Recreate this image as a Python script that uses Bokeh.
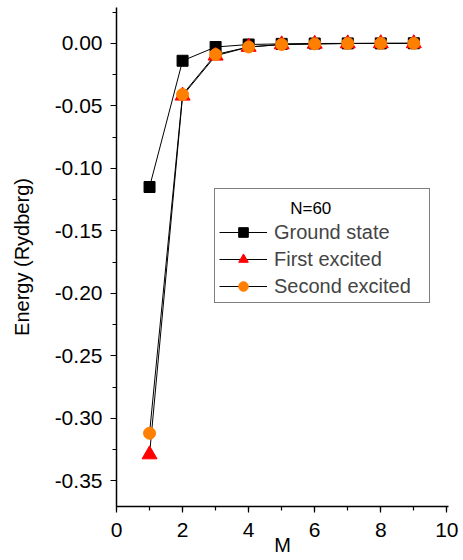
from bokeh.plotting import figure
from bokeh.models import Legend, LegendItem, SingleIntervalTicker, PrintfTickFormatter, Range1d, Label
from bokeh.embed import file_html
from bokeh.resources import INLINE

M = [1, 2, 3, 4, 5, 6, 7, 8, 9]
ground = [-0.115, -0.014, -0.003, -0.001, -0.0005, -0.0002, -0.0001, -0.0001, 0.0]
first = [-0.329, -0.042, -0.010, -0.003, -0.001, -0.0005, -0.0002, -0.0001, -0.0001]
second = [-0.312, -0.041, -0.009, -0.003, -0.001, -0.0005, -0.0002, -0.0001, -0.0001]
legend_title = "N=60"
x_title = "M"
y_title = "Energy (Rydberg)"

FONT = "Liberation Sans"

p = figure(width=463, height=560, output_backend="svg", toolbar_location=None,
           x_range=Range1d(0, 10.05), y_range=Range1d(-0.3706, 0.0286),
           min_border_left=116, min_border_right=15, min_border_top=7, min_border_bottom=54)
p.outline_line_color = None
p.xgrid.visible = False
p.ygrid.visible = False

p.xaxis.ticker = SingleIntervalTicker(interval=2, num_minor_ticks=2)
p.yaxis.ticker = SingleIntervalTicker(interval=0.05, num_minor_ticks=2)
p.yaxis.formatter = PrintfTickFormatter(format="%.2f")
for ax in (p.xaxis, p.yaxis):
    ax.axis_line_color = "black"
    ax.axis_line_width = 1.5
    ax.major_tick_line_color = "black"
    ax.minor_tick_line_color = "black"
    ax.major_tick_line_width = 1.2
    ax.minor_tick_line_width = 1.2
    ax.major_tick_out = 6
    ax.major_tick_in = 0
    ax.minor_tick_out = 4
    ax.minor_tick_in = 0
    ax.major_label_text_font = FONT
    ax.major_label_text_font_size = "21px"
    ax.major_label_text_color = "black"
    ax.axis_label_text_font = FONT
    ax.axis_label_text_font_style = "normal"
    ax.axis_label_text_color = "black"
p.xaxis.major_label_standoff = 10
p.yaxis.major_label_standoff = 8
p.yaxis.axis_label = y_title
p.yaxis.axis_label_text_font_size = "20px"
p.yaxis.axis_label_standoff = 19
p.xaxis.axis_label = x_title
p.xaxis.axis_label_text_font_size = "20px"
p.xaxis.axis_label_standoff = -6

l1 = p.line(M, ground, line_color="black", line_width=1)
l2 = p.line(M, first, line_color="black", line_width=1)
l3 = p.line(M, second, line_color="black", line_width=1)
s1 = p.scatter(M, ground, marker="square", size=11, fill_color="black", line_color="black")
s2 = p.scatter(M, first, marker="triangle", size=15, fill_color="red", line_color="red")
s3 = p.scatter(M, second, marker="circle", size=12, fill_color="#FF8000", line_color="#FF8000")

legend = Legend(items=[
    LegendItem(label="Ground state", renderers=[l1, s1]),
    LegendItem(label="First excited", renderers=[l2, s2]),
    LegendItem(label="Second excited", renderers=[l3, s3]),
], location=(98, 203), title=" ")
legend.title_text_font = FONT
legend.title_text_font_size = "17px"
legend.title_text_font_style = "normal"
legend.title_standoff = 7
legend.label_text_font = FONT
legend.label_text_font_size = "20px"
legend.label_width = 151
legend.border_line_color = "black"
legend.border_line_width = 1
legend.glyph_width = 48
legend.glyph_height = 24
legend.spacing = 3
legend.padding = 4
legend.margin = 0
legend.label_standoff = 7
legend.background_fill_alpha = 0
p.add_layout(legend, "center")

# legend title, centred over the box
p.add_layout(Label(x=5.88, y=-0.1322, text=legend_title, text_font=FONT, text_font_size="17px",
                   text_align="center", text_baseline="middle", text_color="black"))

open("out.html", "w").write(file_html(p, INLINE))
